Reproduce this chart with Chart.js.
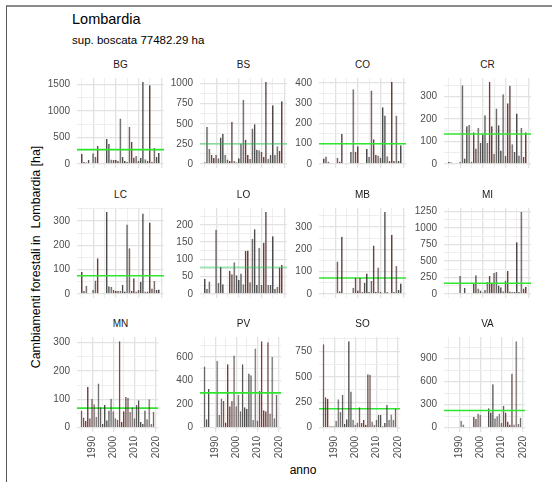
<!DOCTYPE html>
<html lang="it">
<head>
<meta charset="UTF-8">
<title>Lombardia - cambiamenti forestali</title>
<script src="https://cdn.jsdelivr.net/npm/chart.js"></script>
<style>
  body{margin:0;background:#fff;font-family:"Liberation Sans", Arial, Helvetica, sans-serif;}
  #page{position:relative;width:552px;height:482px;overflow:hidden;background:#fff;}
  #frame{position:absolute;left:6px;top:5px;right:-4px;bottom:-4px;border-left:1px solid #555;border-top:2px solid #8c8c8c;}
  .txt{position:absolute;white-space:pre;line-height:1;}
  .strip{position:absolute;width:87px;text-align:center;font-size:10px;color:#1a1a1a;line-height:1;}
  canvas{position:absolute;}
</style>
</head>
<body>
<div id="page">
  <div id="frame"></div>
  <div class="txt" style="left:72px;top:12px;font-size:14.5px;color:#000">Lombardia</div>
  <div class="txt" style="left:72px;top:35px;font-size:11.5px;color:#000">sup. boscata 77482.29 ha</div>
  <div class="txt" style="left:36px;top:257px;font-size:12.4px;color:#000;transform:translate(-50%,-50%) rotate(-90deg)">Cambiamenti forestali in  Lombardia [ha]</div>
  <div class="txt" style="left:303px;top:470px;font-size:12px;color:#000;transform:translate(-50%,-50%)">anno</div>
</div>

<script>
/* ==== dati ==== */
const anni = [1985,1986,1987,1988,1989,1990,1991,1992,1993,1994,1995,1996,1997,1998,1999,
              2000,2001,2002,2003,2004,2005,2006,2007,2008,2009,2010,2011,2012,2013,2014,
              2015,2016,2017,2018,2019];

const province = ['BG','BS','CO','CR','LC','LO','MB','MI','MN','PV','SO','VA'];

const valBG = [190,35,30,75,0,200,130,340,0,0,0,470,375,85,75,80,60,860,130,60,40,700,415,120,150,60,110,1550,90,60,1490,40,300,130,205];
const valBS = [20,460,185,110,75,110,70,330,375,110,55,35,525,35,20,70,255,800,300,110,60,440,495,175,170,150,90,1020,65,110,730,110,220,165,780];
const valCO = [27,37,12,0,0,0,31,12,148,0,0,0,60,370,60,88,5,5,0,74,35,363,122,45,42,30,280,240,38,15,405,15,240,15,92];
const valCR = [10,7,0,0,0,8,350,24,168,173,10,141,68,161,93,131,217,93,364,168,44,247,172,60,310,35,270,348,88,53,224,37,160,31,141];
const valLC = [90,13,34,0,0,16,55,147,0,0,0,337,32,28,16,13,13,13,37,10,286,188,13,65,10,16,50,331,10,10,294,22,53,16,18];
const valLO = [43,15,36,0,0,186,32,79,28,0,0,67,57,92,54,40,59,28,124,126,34,160,187,26,134,26,148,237,26,26,167,15,20,77,84];
const valMB = [5,3,0,0,0,0,145,12,256,0,0,0,0,28,71,15,71,8,50,91,10,58,216,10,118,10,5,366,8,5,265,8,125,18,47];
const valMI = [0,0,0,0,0,270,0,95,10,0,10,165,283,80,50,20,60,180,270,150,315,330,126,100,40,200,346,35,30,30,780,30,1237,80,110];
const valMN = [61,36,24,144,33,102,83,39,156,72,13,80,26,61,102,58,33,28,305,20,58,108,105,55,72,33,80,97,20,13,61,30,100,13,55];
const valPV = [520,72,328,0,0,0,568,107,248,227,45,539,181,227,613,181,280,139,539,173,160,459,445,67,672,61,312,733,147,139,725,120,600,80,280];
const valSO = [820,300,285,15,15,15,68,280,155,325,37,84,850,357,78,30,52,200,45,78,30,527,520,60,30,78,124,124,15,45,223,78,130,78,186];
const valVA = [0,0,0,0,0,0,90,40,0,0,0,0,140,115,185,165,0,0,0,255,197,566,123,150,185,60,287,197,82,40,705,40,1127,49,131];

// media del periodo (linea verde)
const medie = [270,250,100,133,75,77,71,162,69,295,186,225];

// etichette asse y per pannello
const tickBG = [0,500,1000,1500];
const tickBS = [0,250,500,750,1000];
const tickCO = [0,100,200,300,400];
const tickCR = [0,100,200,300];
const tickLC = [0,100,200,300];
const tickLO = [0,50,100,150,200];
const tickMB = [0,100,200,300];
const tickMI = [0,250,500,750,1000,1250];
const tickMN = [0,100,200,300];
const tickPV = [0,200,400,600];
const tickSO = [0,250,500,750];
const tickVA = [0,300,600,900];

const tickAnni = [1990,2000,2010,2020];
const grigliaAnni = [1985,1990,1995,2000,2005,2010,2015,2020];

const valori = [valBG,valBS,valCO,valCR,valLC,valLO,valMB,valMI,valMN,valPV,valSO,valVA];
const ticks  = [tickBG,tickBS,tickCO,tickCR,tickLC,tickLO,tickMB,tickMI,tickMN,tickPV,tickSO,tickVA];

/* ==== impaginazione ==== */
const colX = [77,200,319,444];   // bordo sinistro area grafico
const rowY = [73,203,332];       // bordo alto area grafico
const PW = 87, PH = 100;
const xMin = 1982.805, xMax = 2021.195;

const lineaTenue = ['BS','LO'];       // media disegnata più chiara
const lineaSotto = ['MB','MN','SO'];  // media sotto le barre

const page = document.getElementById('page');

function pannello(i){
  const nome = province[i];
  const dati = valori[i], tk = ticks[i];
  const r = Math.floor(i/4), c = i % 4;
  const fondo = r === 2;

  const AX = 34, PT = 8, PR = 8, PB = fondo ? 34 : 8;
  const w = AX + PW + PR, h = PT + PH + PB;

  // etichetta del pannello
  const s = document.createElement('div');
  s.className = 'strip';
  s.style.left = colX[c] + 'px';
  s.style.top = (rowY[r] - 13) + 'px';
  s.textContent = nome;
  page.appendChild(s);

  const cv = document.createElement('canvas');
  cv.width = w; cv.height = h;
  cv.style.left = (colX[c] - AX) + 'px';
  cv.style.top = (rowY[r] - PT) + 'px';
  cv.style.width = w + 'px'; cv.style.height = h + 'px';
  page.appendChild(cv);

  const massimo = Math.max(...dati);
  const yMin = -0.05*massimo, yMax = 1.05*massimo;
  const mezzo = (tk[1]-tk[0])/2;
  const grigliaY = [];
  for(let v = 0; v <= yMax; v += mezzo) grigliaY.push(v);

  const tenue = lineaTenue.includes(nome);
  const sotto = lineaSotto.includes(nome);

  new Chart(cv, {
    type: 'bar',
    data: {
      datasets: [
        {
          type: 'line',
          data: [{x:xMin, y:medie[i]}, {x:xMax, y:medie[i]}],
          borderColor: tenue ? 'rgba(40,200,80,0.45)' : '#2fe62f',
          borderWidth: 1.6,
          pointRadius: 0,
          order: sotto ? 2 : 0
        },
        {
          type: 'bar',
          data: anni.map((a,k) => ({x:a, y:dati[k]})),
          backgroundColor: 'rgba(52,52,52,0.88)',
          borderColor: 'rgba(160,100,95,0.55)',
          borderWidth: {left:0, right:0.8, top:0, bottom:0},
          borderSkipped: false,
          categoryPercentage: 1.0,
          barPercentage: 0.92,
          order: 1
        }
      ]
    },
    options: {
      responsive: false,
      devicePixelRatio: 1,
      animation: false,
      events: [],
      layout: {padding: {left:0, top:PT, right:PR, bottom: fondo ? 0 : PB}},
      plugins: {legend:{display:false}, tooltip:{enabled:false}},
      scales: {
        x: {
          type: 'linear',
          min: xMin, max: xMax,
          offset: false,
          border: {display:false},
          grid: {
            offset: false,
            drawTicks: false,
            color: ctx => tickAnni.includes(ctx.tick.value) ? '#e2e2e2' : '#ececec',
            lineWidth: ctx => tickAnni.includes(ctx.tick.value) ? 1.3 : 0.9
          },
          afterBuildTicks: sc => { sc.ticks = grigliaAnni.map(v => ({value:v})); },
          afterFit: sc => { sc.height = fondo ? PB : 0; },
          ticks: {
            display: fondo,
            autoSkip: false,
            minRotation: 90, maxRotation: 90,
            padding: 4,
            color: '#4d4d4d',
            font: {family:'"Liberation Sans", Arial, sans-serif', size:10},
            callback: v => tickAnni.includes(v) ? String(v) : ''
          }
        },
        y: {
          type: 'linear',
          min: yMin, max: yMax,
          border: {display:false},
          grid: {
            drawTicks: false,
            color: ctx => tk.includes(ctx.tick.value) ? '#e2e2e2' : '#ececec',
            lineWidth: ctx => tk.includes(ctx.tick.value) ? 1.3 : 0.9
          },
          afterBuildTicks: sc => { sc.ticks = grigliaY.map(v => ({value:v})); },
          afterFit: sc => { sc.width = AX; },
          ticks: {
            autoSkip: false,
            padding: 7,
            color: '#4d4d4d',
            font: {family:'"Liberation Sans", Arial, sans-serif', size:10},
            callback: v => tk.includes(v) ? String(v) : ''
          }
        }
      }
    }
  });
}

province.forEach((p,i) => pannello(i));
</script>
</body>
</html>
